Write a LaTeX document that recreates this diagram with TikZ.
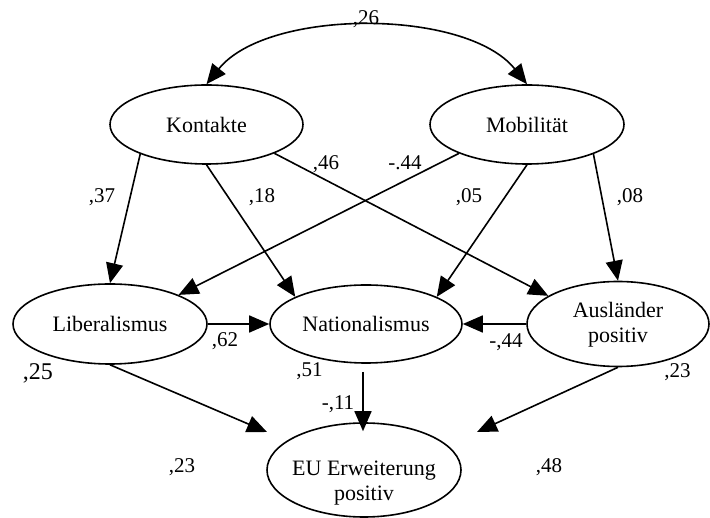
\documentclass[tikz,border=0pt]{standalone}
\usepackage{fontspec}
\setmainfont{Liberation Serif}
\usetikzlibrary{arrows.meta,shapes.geometric}
\begin{document}
\begin{tikzpicture}[x=1pt,y=-1pt,
  lv/.style={draw,ellipse,line width=1.6pt,inner sep=0pt},
  txt/.style={font=\fontsize{22}{25}\selectfont,align=center,inner sep=0pt},
  lab/.style={font=\fontsize{21}{24}\selectfont,anchor=base,inner sep=0pt},
  tip/.style={Triangle[length=20pt,width=17pt]},
  con/.style={line width=1.6pt,-{Triangle[length=20pt,width=17pt]}},
]
\useasboundingbox (0,0) rectangle (710,518);
% latent variables
\node[lv,minimum width=193pt,minimum height=79pt] (K) at (206.5,124.5) {};
\node[lv,minimum width=194pt,minimum height=79pt] (M) at (527,124.5) {};
\node[lv,minimum width=194pt,minimum height=80pt] (L) at (110,324) {};
\node[lv,minimum width=192pt,minimum height=78pt] (N) at (366,324) {};
\node[lv,minimum width=182pt,minimum height=85pt] (A) at (618,324) {};
\node[lv,minimum width=194pt,minimum height=94pt] (E) at (364,470) {};
% texts
\node[txt] (Kt) at (K.center) {Kontakte};
\node[txt] (Mt) at (M.center) {Mobilität};
\node[txt] (Lt) at (L.center) {Liberalismus};
\node[txt] (Nt) at (N.center) {Nationalismus};
\node[txt] (At) at ([yshift=-1pt]A.center) {Ausländer\\positiv};
\node[txt] (Et) at ([yshift=-13.5pt]E.center) {EU Erweiterung\\positiv};
% helper coordinates
\coordinate (ns) at ([shift={(-3,8)}]N.south);
\coordinate (et) at ([yshift=-9pt]E.north);
\coordinate (le) at ([shift={(-97,-38)}]E.center);
\coordinate (ae) at ([shift={(113,-38)}]E.center);
% covariance
\draw[line width=1.6pt,{Triangle[length=20pt,width=17pt]}-{Triangle[length=20pt,width=17pt]}]
  (K.north) .. controls +(61,-76) and +(-61,-76) .. (M.north);
% paths
\draw[con] (K.204) -- (L.north);
\draw[con] (K.south) -- (N.159);
\draw[con] (K.337) -- (A.158);
\draw[con] (M.203) -- (L.23);
\draw[con] (M.south) -- (N.21);
\draw[con] (M.336) -- (A.north);
\draw[con] (L.east) -- (N.west);
\draw[con] (A.west) -- (N.east);
\draw[con] (ns) -- (ns |- et);
\draw[con] (L.south) -- (le);
\draw[con] (A.south) -- (ae);
% coefficients
\node[lab] (c26) at (366,25) {,26};
\node[lab] (c46) at (326,170) {,46};
\node[lab] (c44a) at (405,170) {-.44};
\node[lab] (c37) at (102,203) {,37};
\node[lab] (c18) at (262,203) {,18};
\node[lab] (c05) at (469,203) {,05};
\node[lab] (c08) at (630,203) {,08};
\node[lab] (c62) at (225,347) {,62};
\node[lab] (c44b) at (506,348) {-,44};
\node[lab,font=\fontsize{24}{27}\selectfont] (c25) at (38,380) {,25};
\node[lab] (c51) at (309.5,377) {,51};
\node[lab] (c11) at (338,410) {-,11};
\node[lab] (c23a) at (677.5,378) {,23};
\node[lab] (c23b) at (182,473) {,23};
\node[lab] (c48) at (549,473) {,48};
\end{tikzpicture}
\end{document}
